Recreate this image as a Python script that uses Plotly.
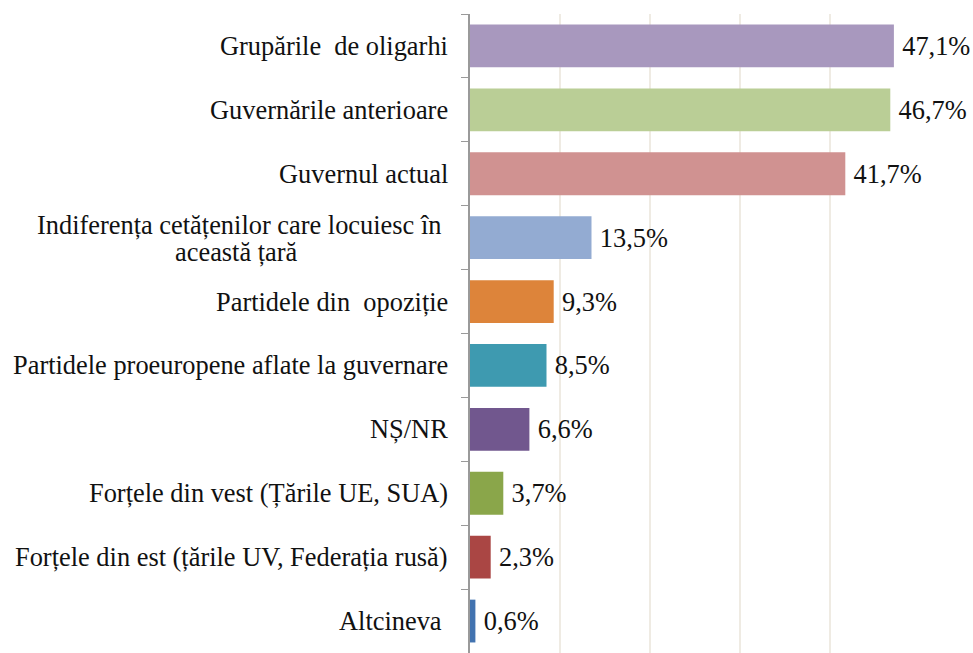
import plotly.graph_objects as go

categories = [
    "Grupările  de oligarhi",
    "Guvernările anterioare",
    "Guvernul actual",
    "Indiferența cetățenilor care locuiesc în <br>această țară",
    "Partidele din  opoziție",
    "Partidele proeuropene aflate la guvernare",
    "NȘ/NR",
    "Forțele din vest (Țările UE, SUA)",
    "Forțele din est (țările UV, Federația rusă)",
    "Altcineva ",
]
values = [47.1, 46.7, 41.7, 13.5, 9.3, 8.5, 6.6, 3.7, 2.3, 0.6]
value_labels = ["47,1%", "46,7%", "41,7%", "13,5%", "9,3%", "8,5%", "6,6%", "3,7%", "2,3%", "0,6%"]
colors = ["#A898BE", "#BACE96", "#D09291", "#93ABD2", "#DD843A",
          "#3E9AB0", "#71578E", "#8AA64A", "#AA4644", "#4273B0"]

FONT = "Liberation Serif"
FS = 26.4
TXT = "#111111"

fig = go.Figure(go.Bar(
    y=categories,
    x=values,
    orientation="h",
    marker=dict(color=colors, line=dict(width=0)),
    text=["\u2009" + t for t in value_labels],
    textposition="outside",
    textfont=dict(family=FONT, size=FS, color=TXT),
    cliponaxis=False,
    constraintext="none",
    width=0.67,
    hoverinfo="x+y",
))


def show(s):
    s = s.replace("  ", " \u00a0")
    if s.endswith(" "):
        s = s[:-1] + "\u00a0"
    return s


annotations = []
for c in categories:
    lines = c.split("<br>")
    if len(lines) == 1:
        annotations.append(dict(
            x=0, xref="paper", y=c, yref="y", text=show(lines[0]), showarrow=False,
            xanchor="right", yanchor="middle", xshift=-20,
            font=dict(family=FONT, size=FS, color=TXT),
        ))
    else:
        annotations.append(dict(
            x=0, xref="paper", y=c, yref="y", text=show(lines[0]), showarrow=False,
            xanchor="right", yanchor="middle", xshift=-20, yshift=13,
            font=dict(family=FONT, size=FS, color=TXT),
        ))
        annotations.append(dict(
            x=0, xref="paper", y=c, yref="y", text=show(lines[1]), showarrow=False,
            xanchor="center", yanchor="middle", xshift=-234, yshift=-14,
            font=dict(family=FONT, size=FS, color=TXT),
        ))

fig.update_layout(
    width=973, height=653,
    margin=dict(l=470, r=53, t=14, b=0, autoexpand=False),
    paper_bgcolor="white", plot_bgcolor="white",
    font=dict(family=FONT),
    showlegend=False,
    annotations=annotations,
    xaxis=dict(range=[0, 50], dtick=10, showgrid=True, gridcolor="#EFEBE3",
               gridwidth=1.5, showticklabels=False, zeroline=False, showline=False,
               ticks="", automargin=False),
    yaxis=dict(autorange="reversed", showticklabels=False, showline=True,
               linecolor="#9A9A9A", linewidth=1.5, ticks="outside", ticklen=7,
               tickcolor="#9A9A9A", tickson="boundaries", showgrid=False,
               automargin=False),
)

fig.write_html("out.html",
               config={"displayModeBar": False},
               post_script="document.body.style.margin='0px';document.body.style.overflow='hidden';")
